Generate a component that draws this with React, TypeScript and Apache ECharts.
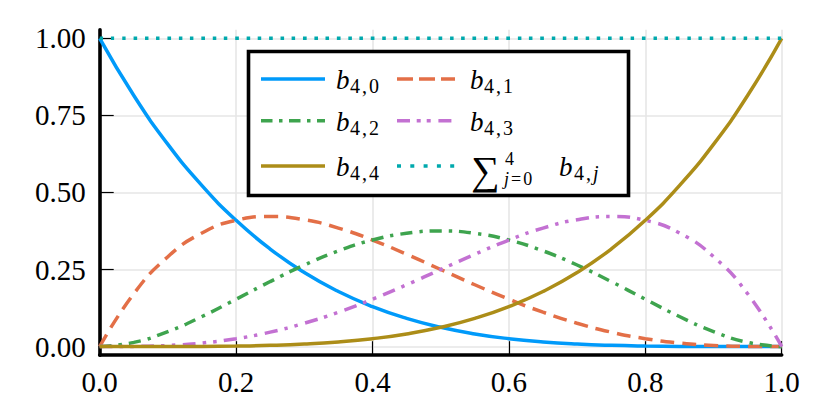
import React, { useEffect, useRef } from "react";
import * as echarts from "echarts";

// Sample positions t (x axis)
const tValues = [0, 0.05, 0.1, 0.15, 0.2, 0.25, 0.3, 0.35, 0.4, 0.45, 0.5, 0.55, 0.6, 0.65, 0.7, 0.75, 0.8, 0.85, 0.9, 0.95, 1];

// Bernstein basis values read at those positions
const b40 = [1, 0.8145, 0.6561, 0.522, 0.4096, 0.3164, 0.2401, 0.1785, 0.1296, 0.0915, 0.0625, 0.041, 0.0256, 0.015, 0.0081, 0.0039, 0.0016, 0.0005, 0.0001, 0.0, 0];
const b41 = [0, 0.1715, 0.2916, 0.3685, 0.4096, 0.4219, 0.4116, 0.3845, 0.3456, 0.2995, 0.25, 0.2005, 0.1536, 0.1115, 0.0756, 0.0469, 0.0256, 0.0115, 0.0036, 0.0005, 0];
const b42 = [0, 0.0135, 0.0486, 0.0975, 0.1536, 0.2109, 0.2646, 0.3105, 0.3456, 0.3675, 0.375, 0.3675, 0.3456, 0.3105, 0.2646, 0.2109, 0.1536, 0.0975, 0.0486, 0.0135, 0];
const b43 = [0, 0.0005, 0.0036, 0.0115, 0.0256, 0.0469, 0.0756, 0.1115, 0.1536, 0.2005, 0.25, 0.2995, 0.3456, 0.3845, 0.4116, 0.4219, 0.4096, 0.3685, 0.2916, 0.1715, 0];
const b44 = [0, 0.0, 0.0001, 0.0005, 0.0016, 0.0039, 0.0081, 0.015, 0.0256, 0.041, 0.0625, 0.0915, 0.1296, 0.1785, 0.2401, 0.3164, 0.4096, 0.522, 0.6561, 0.8145, 1];
const bSum = [1, 1, 1, 1, 1, 1, 1, 1, 1, 1, 1, 1, 1, 1, 1, 1, 1, 1, 1, 1, 1];

const seriesNames = ["b40", "b41", "b42", "b43", "b44", "sum"];
const seriesValues = [b40, b41, b42, b43, b44, bSum];
const seriesColors = ["#009AFA", "#E36F47", "#3EA44E", "#C371D2", "#AC8D18", "#00A9AD"];

const yTicks = [0, 0.25, 0.5, 0.75, 1];
const xTickInterval = 0.2;

const FONT = "Liberation Serif";

const plotDash: any[] = ["solid", [14, 8], [12, 7, 3.4, 7], [13, 7, 3.5, 7, 3.5, 7.5], "solid", [3.4, 7.9]];
const legendDash: any[] = [null, [16, 6], [11.5, 6.5, 3.5, 6.5], [13, 6.7, 4, 6, 4, 7.7], null, [4, 9.3]];

function txt(x: number, y: number, text: string, fontSize: number, italic: boolean, rich?: any) {
  return {
    type: "text",
    x,
    y,
    z: 100,
    style: {
      text,
      fontFamily: FONT,
      fontSize,
      fontStyle: italic ? "italic" : "normal",
      fill: "#000",
      align: "left",
      verticalAlign: "middle",
      rich,
    },
  };
}

const subRich = (size: number) => ({
  n: { fontFamily: FONT, fontSize: size, fontStyle: "normal", fill: "#000" },
  i: { fontFamily: FONT, fontSize: size, fontStyle: "italic", fill: "#000" },
  s: { fontFamily: FONT, fontSize: size, fontStyle: "normal", fill: "#000", padding: [0, 2, 0, 2] },
});

function bLabel(x: number, yLine: number, sub: string) {
  return [
    txt(x, yLine + 1, "b", 27, true),
    txt(x + 14, yLine + 7, sub, 20, false, subRich(20)),
  ];
}

export default function App() {
  const ref = useRef<HTMLDivElement>(null);

  useEffect(() => {
    if (!ref.current) return;
    const chart = echarts.init(ref.current, undefined, { renderer: "svg" });

    const series = seriesValues.map((vals, k) => ({
      name: seriesNames[k],
      type: "line",
      data: tValues.map((t, i) => [t, vals[i]]),
      symbol: "none",
      showSymbol: false,
      smooth: 0.5,
      lineStyle: {
        color: seriesColors[k],
        width: 3.5,
        type: plotDash[k],
        cap: "butt",
      },
      z: 2 + k,
    }));

    const colX1 = [261, 397];
    const colX2 = [325, 455];
    const textX = [336, 470];
    const rowY = [79, 120.7, 166];
    const subs = ["{n|4}{s|,}{n|0}", "{n|4}{s|,}{n|1}", "{n|4}{s|,}{n|2}", "{n|4}{s|,}{n|3}", "{n|4}{s|,}{n|4}"];

    const legendChildren: any[] = [
      {
        type: "rect",
        z: 99,
        shape: { x: 248.5, y: 51.5, width: 380, height: 144 },
        style: { fill: "#fff", stroke: "#000", lineWidth: 3.6 },
      },
    ];
    for (let k = 0; k < 6; k++) {
      const col = k % 2;
      const row = Math.floor(k / 2);
      legendChildren.push({
        type: "line",
        z: 100,
        shape: { x1: colX1[col], y1: rowY[row], x2: colX2[col], y2: rowY[row] },
        style: {
          stroke: seriesColors[k],
          lineWidth: 3.4,
          lineDash: legendDash[k],
          lineCap: "butt",
        },
      });
      if (k < 5) {
        legendChildren.push(...bLabel(textX[col], rowY[row], subs[k]));
      }
    }
    // sum label
    const sy = rowY[2];
    legendChildren.push(txt(471, sy + 4, "∑", 40, false));
    legendChildren.push(txt(505, sy - 7, "4", 18, false));
    legendChildren.push(txt(504, sy + 12.5, "{i|j}{s|=}{n|0}", 18, false, subRich(18)));
    legendChildren.push(txt(559, sy + 1, "b", 27, true));
    legendChildren.push(txt(574, sy + 7, "{n|4}{s|,}{i|j}", 20, false, subRich(20)));

    chart.setOption({
      animation: false,
      backgroundColor: "#fff",
      textStyle: { fontFamily: FONT },
      grid: { left: 99.7, top: 29.7, width: 682, height: 325.5, containLabel: false },
      xAxis: {
        type: "value",
        min: 0,
        max: 1,
        interval: xTickInterval,
        axisLine: { show: true, onZero: false, lineStyle: { color: "#000", width: 3.6 } },
        axisTick: { show: true, inside: true, length: 14, lineStyle: { color: "#000", width: 1.2 } },
        axisLabel: {
          show: true,
          margin: 12,
          fontSize: 29,
          fontFamily: FONT,
          color: "#000",
          showMinLabel: true,
          showMaxLabel: true,
          formatter: (v: number) => v.toFixed(1),
        },
        splitLine: { show: true, lineStyle: { color: "#e6e6e6", width: 1.6 } },
      },
      yAxis: {
        type: "value",
        min: -0.028,
        max: 1.028,
        axisLine: { show: true, onZero: false, lineStyle: { color: "#000", width: 3.6 } },
        axisTick: { show: true, inside: true, length: 14, customValues: yTicks, lineStyle: { color: "#000", width: 1.2 } },
        axisLabel: {
          show: true,
          margin: 14,
          fontSize: 29,
          fontFamily: FONT,
          color: "#000",
          customValues: yTicks,
          formatter: (v: number) => v.toFixed(2),
        },
        splitLine: { show: true, lineStyle: { color: "#e6e6e6", width: 1.6 } },
      },
      series,
      graphic: [{ type: "group", z: 100, children: legendChildren }],
    });

    return () => chart.dispose();
  }, []);

  return (
    <div
      ref={ref}
      style={{ position: "absolute", left: 0, top: 0, width: 831, height: 418 }}
    />
  );
}
